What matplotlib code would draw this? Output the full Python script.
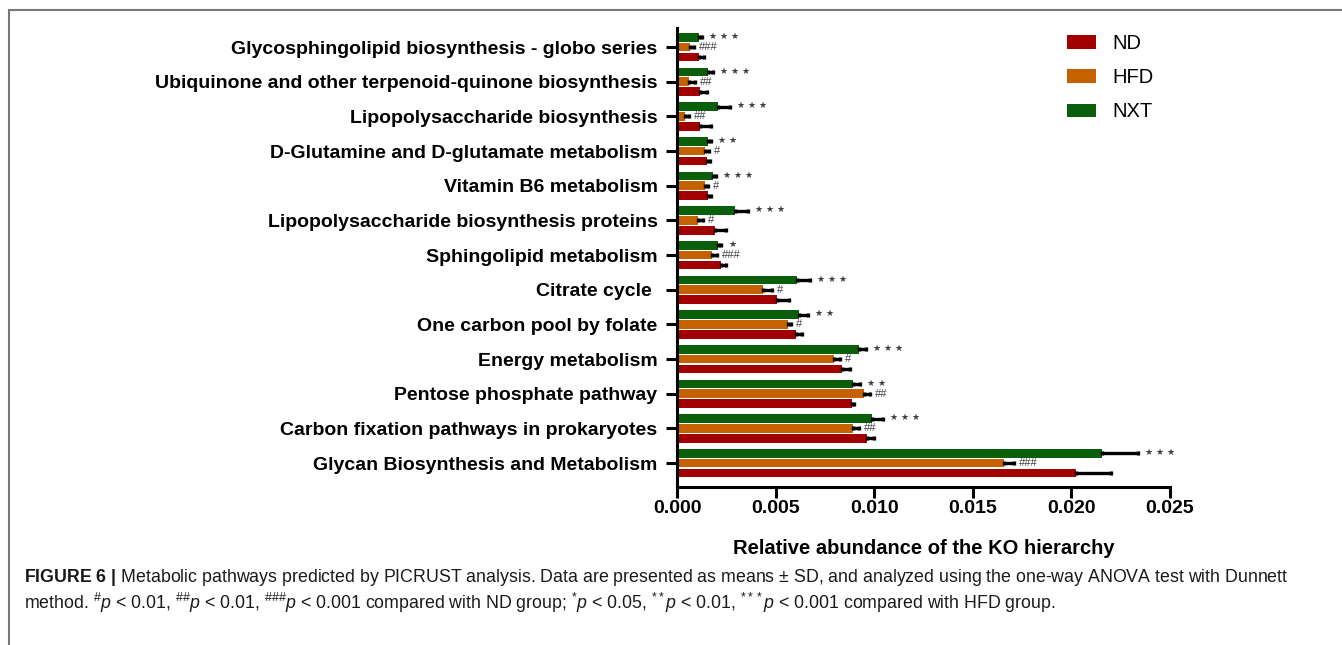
import matplotlib
matplotlib.use("Agg")
import numpy as np
import matplotlib.pyplot as plt
from matplotlib import font_manager
from matplotlib.lines import Line2D

# ---------- Data (top to bottom as in the figure) ----------
pathways = [
    "Glycosphingolipid biosynthesis - globo series",
    "Ubiquinone and other terpenoid-quinone biosynthesis",
    "Lipopolysaccharide biosynthesis",
    "D-Glutamine and D-glutamate metabolism",
    "Vitamin B6 metabolism",
    "Lipopolysaccharide biosynthesis proteins",
    "Sphingolipid metabolism",
    "Citrate cycle ",
    "One carbon pool by folate",
    "Energy metabolism",
    "Pentose phosphate pathway",
    "Carbon fixation pathways in prokaryotes",
    "Glycan Biosynthesis and Metabolism",
]
groups = ["ND", "HFD", "NXT"]

nd_mean = [0.00113, 0.00115, 0.00119, 0.00152, 0.00158, 0.00191, 0.00225,
           0.00508, 0.00605, 0.00838, 0.00885, 0.00965, 0.02024]
nd_sd = [0.00022, 0.00037, 0.00054, 0.00014, 0.00016, 0.00056, 0.00024,
         0.00058, 0.00030, 0.00041, 0.00014, 0.00036, 0.00176]
hfd_mean = [0.00068, 0.00063, 0.00039, 0.00144, 0.00144, 0.00107, 0.00178,
            0.00437, 0.00564, 0.00796, 0.00950, 0.00892, 0.01657]
hfd_sd = [0.00017, 0.00030, 0.00024, 0.00017, 0.00014, 0.00023, 0.00025,
          0.00043, 0.00016, 0.00031, 0.00029, 0.00030, 0.00053]
nxt_mean = [0.00113, 0.00158, 0.00208, 0.00158, 0.00181, 0.00295, 0.00207,
            0.00610, 0.00620, 0.00921, 0.00891, 0.00991, 0.02156]
nxt_sd = [0.00014, 0.00023, 0.00060, 0.00015, 0.00017, 0.00064, 0.00018,
          0.00064, 0.00044, 0.00039, 0.00035, 0.00054, 0.00181]

nxt_marks = ["***", "***", "***", "**", "***", "***", "*",
             "***", "**", "***", "**", "***", "***"]
hfd_marks = ["###", "##", "##", "#", "#", "#", "###",
             "#", "#", "#", "##", "##", "###"]

colors = {"ND": "#a00000", "HFD": "#c46200", "NXT": "#0b5e0b"}

caption_l1 = (r"$\mathbf{FIGURE\ 6\ |}$ Metabolic pathways predicted by PICRUST analysis. "
              "Data are presented as means \u00b1 SD, and analyzed using the one-way ANOVA test with Dunnett")
caption_l2 = (r"method. $^{\#}\mathit{p}$ < 0.01, $^{\#\#}\mathit{p}$ < 0.01, $^{\#\#\#}\mathit{p}$ < 0.001 "
              r"compared with ND group; $^{*}\mathit{p}$ < 0.05, $^{**}\mathit{p}$ < 0.01, "
              r"$^{***}\mathit{p}$ < 0.001 compared with HFD group.")

# ---------- Fonts ----------
names = {f.name for f in font_manager.fontManager.ttflist}
sans = "Liberation Sans" if "Liberation Sans" in names else "DejaVu Sans"
plt.rcParams["font.family"] = [sans, "DejaVu Sans"]
plt.rcParams["mathtext.fontset"] = "custom"
plt.rcParams["mathtext.rm"] = sans
plt.rcParams["mathtext.it"] = sans + ":italic"
plt.rcParams["mathtext.bf"] = sans + ":bold"

# ---------- Figure ----------
fig = plt.figure(figsize=(13.42, 6.45), dpi=100)
ax = fig.add_axes([677 / 1342, 158 / 645, 493 / 1342, 459 / 645])

n = len(pathways)
y = np.arange(n)[::-1]
off = 0.285
h = 0.25
ekw = dict(ecolor="black", elinewidth=2.4, capsize=1.5, capthick=2.4)

zeros = np.zeros(n)
ax.barh(y - off, nd_mean, height=h, color=colors["ND"], label="ND",
        xerr=[zeros, nd_sd], error_kw=ekw)
ax.barh(y, hfd_mean, height=h, color=colors["HFD"], label="HFD",
        xerr=[zeros, hfd_sd], error_kw=ekw)
ax.barh(y + off, nxt_mean, height=h, color=colors["NXT"], label="NXT",
        xerr=[zeros, nxt_sd], error_kw=ekw)

for i in range(n):
    stars = " ".join(nxt_marks[i].replace("*", "\u2605"))
    ax.annotate(stars, (nxt_mean[i] + nxt_sd[i], y[i] + off),
                xytext=(5, 0.5), textcoords="offset points", va="center",
                ha="left", fontsize=6.5, color="#404040",
                family="DejaVu Sans")
    ax.annotate(hfd_marks[i], (hfd_mean[i] + hfd_sd[i], y[i]),
                xytext=(3.5, 0), textcoords="offset points", va="center",
                ha="left", fontsize=8, color="#404040")

ax.set_xlim(0, 0.025)
ax.set_ylim(-0.69, n - 1 + 0.55)
ax.set_xticks([0, 0.005, 0.010, 0.015, 0.020, 0.025])
ax.set_xticklabels(["0.000", "0.005", "0.010", "0.015", "0.020", "0.025"],
                   fontsize=14, fontweight="bold")
ax.set_yticks(y)
ax.set_yticklabels(pathways, fontsize=14, fontweight="bold")
ax.tick_params(axis="x", length=8, width=2.2, pad=1.5)
ax.tick_params(axis="y", length=8, width=2.2, pad=6)
for s in ["top", "right"]:
    ax.spines[s].set_visible(False)
for s in ["left", "bottom"]:
    ax.spines[s].set_linewidth(2.2)

ax.set_xlabel("Relative abundance of the KO hierarchy", fontsize=14.5,
              fontweight="bold", labelpad=16)

handles, labels = ax.get_legend_handles_labels()
leg = fig.legend(handles, labels, loc="upper left",
                 bbox_to_anchor=(1049 / 1342, 1 - 16 / 645), frameon=False,
                 fontsize=14.5, handlelength=1.45, handleheight=0.65,
                 labelspacing=0.75, handletextpad=0.8)

# ---------- Frame lines and caption ----------
fig.add_artist(Line2D([9 / 1342, 1], [1 - 10 / 645] * 2,
                      transform=fig.transFigure, color="#777777", lw=1.5))
fig.add_artist(Line2D([9 / 1342] * 2, [0, 1 - 10 / 645],
                      transform=fig.transFigure, color="#777777", lw=1.5))

fig.text(24 / 1342, 1 - 578 / 645, caption_l1, fontsize=12.8, va="center",
         color="#1a1a1a")
fig.text(24 / 1342, 1 - 603 / 645, caption_l2, fontsize=12.8, va="center",
         color="#1a1a1a")

fig.savefig("out.png", dpi=100)
